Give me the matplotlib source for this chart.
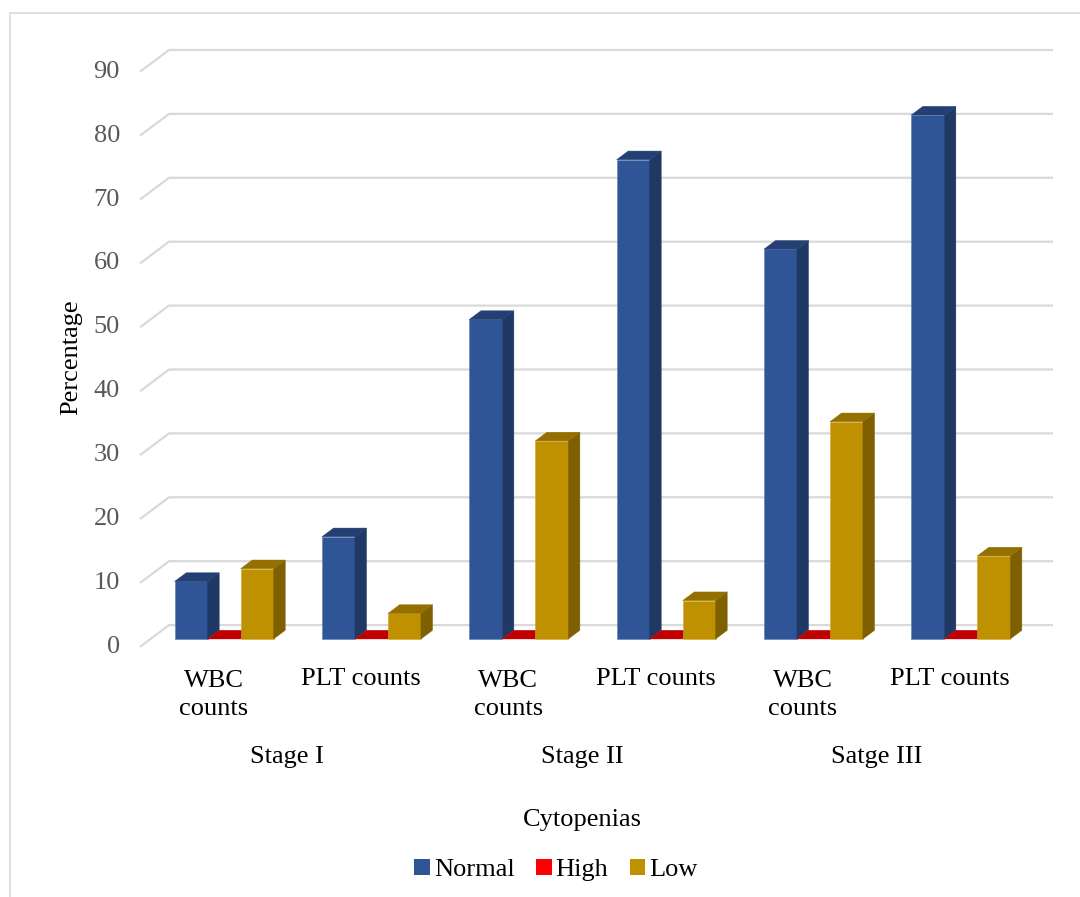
import matplotlib
matplotlib.use("Agg")
import matplotlib.pyplot as plt
from matplotlib.patches import Polygon, Rectangle, Patch
from matplotlib.transforms import blended_transform_factory

plt.rcParams['font.family'] = ['Liberation Serif', 'DejaVu Serif']

# data
categories = ["WBC\ncounts", "PLT counts", "WBC\ncounts", "PLT counts", "WBC\ncounts", "PLT counts"]
stages = ["Stage I", "Stage II", "Satge III"]
series = ["Normal", "High", "Low"]
normal = [9, 16, 50, 75, 61, 82]
high = [0, 0, 0, 0, 0, 0]
low = [11, 4, 31, 6, 34, 13]
yticks = list(range(0, 100, 10))

# front / side / top colours for each series
colors = {
    "Normal": ("#2F5597", "#203864", "#243F73"),
    "High": ("#FF0000", "#8B0000", "#C00000"),
    "Low": ("#BF9000", "#7F6000", "#957000"),
}

# oblique 3D projection settings (x in category units, y in value units)
DEPTH_DX = 0.197
DEPTH_DY = 3.4
BAR_W = 0.224
FRONT_F = 0.36
DEPTH_F = 0.40

fig = plt.figure(figsize=(10.8, 8.97), dpi=100)
W, H = 1080, 897

# light frame around the chart
fig.patches.append(Rectangle((10 / W, -0.05), 1.2, (1 - 13 / H) + 0.05, transform=fig.transFigure,
                             fill=False, edgecolor="#d9d9d9", linewidth=1.2))

ax = fig.add_axes([140 / W, 1 - 646.8 / H, 913 / W, (646.8 - 50) / H])
ax.set_xlim(0, 6 + DEPTH_DX)
ax.set_ylim(0, 90 + DEPTH_DY)
ax.axis("off")

# gridlines: short diagonal on the side wall, then along the back wall
for v in yticks:
    ax.plot([0, DEPTH_DX, len(categories) + DEPTH_DX], [v, v + DEPTH_DY, v + DEPTH_DY],
            color="#d9d9d9", linewidth=1.6, zorder=1, clip_on=False, solid_capstyle="butt")
    ax.text(-0.136, v, str(v), ha="right", va="center", fontsize=19, color="#595959")

# 3D bars
base = FRONT_F * DEPTH_DY
ddx = DEPTH_F * DEPTH_DX
ddy = DEPTH_F * DEPTH_DY
z = 3
values = {"Normal": normal, "High": high, "Low": low}
for i in range(len(categories)):
    center = i + 0.5 + FRONT_F * DEPTH_DX
    for j, name in enumerate(series):
        front, side, top = colors[name]
        val = values[name][i]
        x0 = center + (j - 1) * BAR_W - BAR_W / 2
        x1 = x0 + BAR_W
        y1 = base + val
        if val > 0:
            ax.bar(x0, val, width=BAR_W, bottom=base, align="edge", color=front,
                   edgecolor="#5b7bb5" if name == "Normal" else "#d4a82a", linewidth=0.4, zorder=z)
            ax.add_patch(Polygon([(x1, base), (x1 + ddx, base + ddy), (x1 + ddx, y1 + ddy), (x1, y1)],
                                 closed=True, facecolor=side, edgecolor=side, linewidth=0.3, zorder=z))
        ax.add_patch(Polygon([(x0, y1), (x1, y1), (x1 + ddx, y1 + ddy), (x0 + ddx, y1 + ddy)],
                             closed=True, facecolor=top, edgecolor=top, linewidth=0.3, zorder=z))
        z += 1

# category and stage labels
trans = blended_transform_factory(ax.transData, fig.transFigure)
for i, lab in enumerate(categories):
    if "\n" in lab:
        ax.text(i + 0.5, 1 - 695 / H, lab, ha="center", va="center", fontsize=19,
                color="#000000", transform=trans, linespacing=1.3)
    else:
        ax.text(i + 0.5, 1 - 679 / H, lab, ha="center", va="center", fontsize=19,
                color="#000000", transform=trans)
for k, st in enumerate(stages):
    ax.text(2 * k + 1, 1 - 757 / H, st, ha="center", va="center", fontsize=19,
            color="#000000", transform=trans)

ax.text(3, 1 - 820 / H, "Cytopenias", ha="center", va="center", fontsize=19,
        color="#000000", transform=trans)
fig.text(71 / W, 1 - 357 / H, "Percentage", rotation=90, ha="center", va="center",
         fontsize=19, color="#000000")

handles = [Patch(facecolor=colors[s][0], label=s) for s in series]
fig.legend(handles=handles, loc="center", bbox_to_anchor=(556 / W, 1 - 870 / H), ncol=3,
           frameon=False, fontsize=19, handlelength=0.6, handleheight=0.6,
           handletextpad=0.15, columnspacing=0.8, borderaxespad=0)

fig.savefig("out.png", dpi=100)
